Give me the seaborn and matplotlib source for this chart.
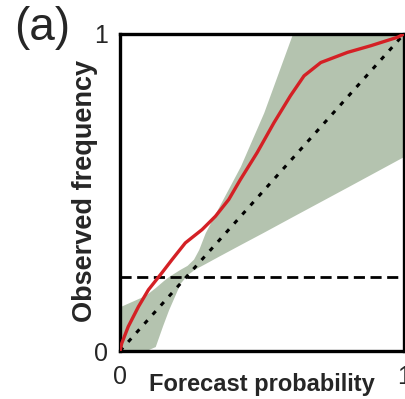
import numpy as np
import pandas as pd
import seaborn as sns
import matplotlib.pyplot as plt

"""Data read off the reliability diagram"""
# Reliability curve (red)
forecast_prob = [0, 0.006, 0.029, 0.065, 0.1, 0.147, 0.183, 0.23, 0.289, 0.336, 0.383, 0.424,
                 0.483, 0.542, 0.6, 0.648, 0.707, 0.801, 0.883, 0.978, 1.0]
observed_freq = [0, 0.024, 0.077, 0.14, 0.193, 0.246, 0.288, 0.341, 0.383, 0.425, 0.478, 0.541,
                 0.626, 0.72, 0.805, 0.868, 0.91, 0.942, 0.963, 0.99, 1.0]

# Uncertainty band (shaded)
band_x     = [0, 0.088, 0.124, 0.15, 0.171, 0.212, 0.236, 0.259, 0.277, 0.3, 0.345, 0.424, 0.506, 0.607, 0.8, 1.0]
band_upper = [0.14, 0.175, 0.2, 0.22, 0.235, 0.258, 0.27, 0.29, 0.32, 0.373, 0.45, 0.583, 0.752, 1.0, 1.0, 1.0]
band_lower = [0, 0, 0.014, 0.08, 0.13, 0.214, 0.24, 0.256, 0.265, 0.276, 0.298, 0.336, 0.375, 0.424, 0.517, 0.614]

# Perfect reliability and climatology
diagonal    = [0, 1]
climatology = 0.234

tick_values = [0, 1]
tick_labels = ['0', '1']

curve = pd.DataFrame({'Forecast probability': forecast_prob, 'Observed frequency': observed_freq})

"""Plot"""
sns.set_style('white')
plt.rcParams['font.family'] = ['Liberation Sans', 'DejaVu Sans']

fig = plt.figure(figsize=(4.06, 3.99), dpi=100)
ax = fig.add_axes([0.2956, 0.1203, 0.6995, 0.7945])

ax.fill_between(band_x, band_lower, band_upper, color='#b4c3af', linewidth=0, zorder=1)
ax.axhline(climatology, color='black', linestyle=(0, (4, 2)), linewidth=2.0, zorder=2)
sns.lineplot(x=diagonal, y=diagonal, color='black', linestyle=(0, (1.5, 2.5)), linewidth=2.2, ax=ax, zorder=3)
sns.lineplot(data=curve, x='Forecast probability', y='Observed frequency',
             color='#d42025', linewidth=2.4, solid_joinstyle='round', ax=ax, zorder=4)

ax.set_xlim(0, 1)
ax.set_ylim(0, 1)
ax.set_xticks(tick_values)
ax.set_xticklabels(tick_labels)
ax.set_yticks(tick_values)
ax.set_yticklabels(tick_labels)
ax.tick_params(length=0, labelsize=18, pad=9)
ax.tick_params(axis='x', pad=10)

for spine in ax.spines.values():
    spine.set_color('black')
    spine.set_linewidth(2.4)
    spine.set_visible(True)

ax.set_xlabel('Forecast probability', fontsize=17, fontweight='bold')
ax.xaxis.set_label_coords(0.5, -0.107)
ax.xaxis.label.set_va('center')
ax.set_ylabel('Observed frequency', fontsize=19.5, fontweight='bold')
ax.yaxis.set_label_coords(-0.124, 0.505)
ax.yaxis.label.set_va('center')

fig.text(0.035, 0.985, '(a)', fontsize=33, va='top', ha='left')

fig.savefig('out.png', dpi=100)
